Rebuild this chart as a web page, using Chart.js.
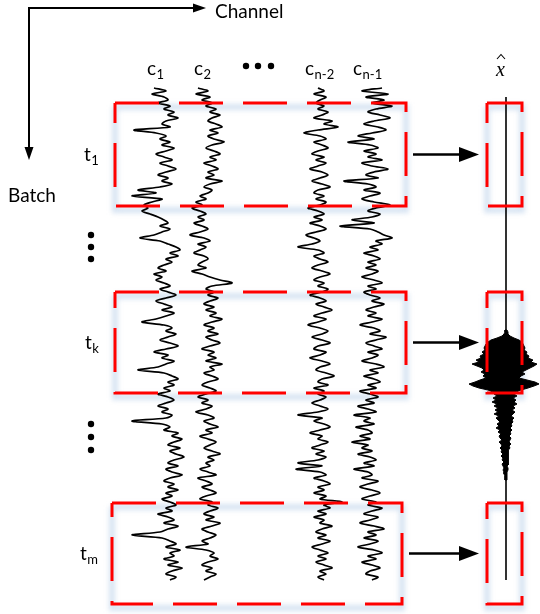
<!DOCTYPE html>
<html>
<head>
<meta charset="utf-8">
<script src="https://cdn.jsdelivr.net/npm/chart.js@4.4.1/dist/chart.umd.min.js"></script>
<style>
  html, body { margin: 0; padding: 0; background: #ffffff; }
  #wrap { width: 540px; height: 614px; }
</style>
</head>
<body>
<div id="wrap"><canvas id="chart" width="540" height="614"></canvas></div>
<script>
// ---------------- DATA ----------------
const channelLabels = ['c1', 'c2', 'cn-2', 'cn-1'];
const batchLabels = ['t1', 'tk', 'tm'];

// amplitude samples of each channel, one sample per time step
const ampC1 = [
  -8, 4, -10, 2, 6, -4, 8, 2, 12, 6, 16, 4, 0, 8, -28,
  -6, 4, -2, 8, 0, 12, 4, -6, 2, 10, -2, 6, 14, 4, -4,
  6, 0, 10, -2, -24, -6, -30, 0, -10, -18, -14, -20, -12, -4, 2,
  6, -2, 8, 0, -8, -22, -2, 6, 14, 18, 8, 16, 4, 10, 2,
  -4, 4, -8, 0, -6, 2, 8, -2, 6, 14, 4, -6, 2, 10, 0,
  12, 4, -6, -20, 2, 10, 4, 14, 6, -2, 8, 16, 4, -8, 6,
  0, 12, 4, -4, -24, 2, 10, 16, 6, 12, 2, 8, -4, 6, 12,
  4, -4, 6, 0, 10, 4, -30, 0, 8, 2, 16, 10, 20, 12, 6,
  18, 8, 14, 22, 12, 6, 16, 4, 10, 20, 8, 2, 12, 6, 16,
  4, 10, 0, 8, 14, 4, 10, -4, 6, 12, 2, 16, 6, -2, -30,
  0, 8, 14, 4, 18, 8, 12, 2, 16, 6, 20, 10, 4, 14, 8
];
const ampC2 = [
  -8, 2, -10, 4, -4, 6, 0, 10, 4, 14, 6, 2, 10, 16, 4,
  12, 2, 8, 18, 6, 0, 8, 14, 4, 10, -2, 6, 12, 2, 8,
  0, 16, 4, -2, 6, 2, -6, 0, -10, -4, -14, -6, 0, -8, -2,
  -12, -4, 2, -6, -16, -2, 4, -8, 0, -6, -12, -2, 2, -4, -8,
  0, -14, -4, 4, 14, 26, 6, 0, 8, 2, 12, 4, -2, 8, 0,
  10, 4, 16, 6, -2, 8, 2, 12, 0, 6, 14, 4, -4, 8, 2,
  10, 0, 16, 4, 8, -2, 6, 12, 2, -4, 4, 10, 0, -8, 2,
  -4, 6, 0, -10, 2, 8, -2, 4, 12, 0, 6, -6, 2, 10, 4,
  -2, 6, 14, 2, 8, 0, 4, -6, 2, 10, -8, 0, 6, -4, 4,
  10, 0, -6, 6, 2, 12, 4, -2, 8, 0, 14, 6, -4, 2, 10,
  4, -4, 2, -20, 0, 8, 4, 12, 2, -4, 6, 0, 10, 4, -2
];
const ampCn2 = [
  0, 6, -4, 8, 2, -2, 6, 0, 10, 4, -4, 14, 6, 20, 0,
  -14, 2, 8, -4, 4, 10, 0, -6, 6, -2, 8, 0, -8, 4, 10,
  2, -6, 4, 12, 0, -4, 6, -2, 8, 2, -10, 0, 6, -4, 4,
  -8, 2, 8, -2, -12, -4, 2, -6, -20, 0, 6, -4, 2, 10, 0,
  -6, 4, 12, 2, -4, 6, 0, 10, 4, -8, 2, 8, -2, 6, 14,
  4, -4, 8, 0, -10, 2, 10, 4, -6, 4, 12, 0, -4, 8, 2,
  -8, 4, 12, 2, -2, 8, 16, 4, 0, 10, -4, 6, 0, 8, 2,
  -6, 2, 10, 0, -20, 4, -4, 6, 12, 2, -8, 4, 0, 10, 2,
  -6, 6, -2, 8, 0, -20, 4, -22, 2, 8, -4, 6, 12, 0, 6,
  -4, 8, 2, 24, 6, 12, 0, 8, -4, 6, 2, 14, 4, -2, 8,
  0, 12, 4, -6, 2, 10, 0, 8, -2, 6, 14, 2, 8, 0, 6
];
const ampCn1 = [
  14, -6, 20, -2, 16, 4, 24, 8, 0, 12, 22, 6, -4, 10, 18,
  4, -10, 6, -20, 2, 10, -4, 8, 0, 14, -6, 4, 20, 6, -2,
  10, -24, 0, 8, -4, 12, 2, -6, 6, 22, 8, 0, 12, 4, -16,
  6, -28, 2, 10, 16, 24, 8, 14, 2, 10, -4, 6, 12, 0, 8,
  -2, 10, 4, -6, 6, 14, 0, 8, -4, 2, 12, 4, 16, 6, -2,
  8, 0, 14, 4, -8, 6, 12, 2, 18, 8, -2, 6, 14, 0, 10,
  4, -6, 8, 16, 2, 10, -4, 6, 12, 0, 8, -8, 2, 10, -2,
  6, -10, 0, 8, -14, 2, -4, 6, -12, 0, 4, -8, 2, -16, 0,
  -6, 4, -10, 2, 8, -4, 6, -14, 0, 4, -6, 10, 0, -8, 4,
  12, 2, -6, 8, 0, 14, 4, -4, 10, 2, -8, 6, 16, 0, 8,
  -4, 10, 2, -10, 6, 14, 0, 8, -6, 4, 12, 2, -2, 10, 4
];
const channelSeries = [ampC1, ampC2, ampCn2, ampCn1];

// reconstructed signal x-hat: envelope of the burst (left / right half widths)
const xhatBurstLeft = [
  1, 1, 2, 4, 9, 15, 18, 20, 21, 22,
  21, 24, 22, 26, 25, 30, 27, 34, 29, 24,
  22, 25, 21, 23, 20, 26, 31, 37, 33, 27,
  18, 13, 12, 9, 13, 10, 14, 9, 12, 8,
  11, 8, 12, 7, 10, 8, 6, 9, 7, 10,
  6, 8, 5, 7, 6, 4, 7, 5, 4, 6,
  4, 5, 3, 5, 3, 4, 2, 4, 3, 2,
  3, 2, 2, 1, 1, 1
];
const xhatBurstRight = [
  1, 2, 2, 4, 8, 13, 16, 17, 18, 19,
  18, 21, 20, 23, 22, 27, 25, 31, 28, 24,
  20, 16, 19, 15, 13, 21, 29, 33, 28, 22,
  15, 10, 8, 11, 7, 10, 8, 11, 7, 9,
  6, 9, 7, 5, 8, 6, 7, 5, 6, 4,
  6, 4, 5, 3, 5, 4, 3, 5, 3, 4,
  2, 3, 3, 2, 3, 2, 2, 3, 1, 2,
  2, 1, 1, 1, 1, 1
];

// time windows of each batch (in time units of the vertical axis)
const batchWindows = [[103, 206], [292, 393], [503, 604]];

// ---------------- LAYOUT / STYLE ----------------
const TRACE_T0 = 88, TRACE_DT = 3;
const CH_CENTER = [162, 206, 318, 368];
const BIG_RECT_X = [[115, 406], [115, 406], [112, 402]];
const OUT_RECT_X = [487, 522];
const XHAT_X = 506, XHAT_T = [97, 580];
const BURST_T0 = 330, BURST_DT = 2;
const RED = '#ff0000';
const GLOW = 'rgba(200, 218, 238, 0.75)';
const FONT = 'Lato, "Open Sans", sans-serif';

const datasets = [];

function rectPoints(x0, x1, t0, t1, dy) {
  dy = dy || 0;
  return [
    {x: x0, y: t0 + dy}, {x: x1, y: t0 + dy}, {x: x1, y: t1 + dy},
    {x: x0, y: t1 + dy}, {x: x0, y: t0 + dy}
  ];
}

// rectangles (red dashed, drawn on top) and their glow
batchWindows.forEach((w, k) => {
  const [t0, t1] = w;
  const bx = BIG_RECT_X[k];
  [[bx[0], bx[1]], OUT_RECT_X].forEach(xr => {
    datasets.push({
      label: 'window ' + batchLabels[k],
      data: rectPoints(xr[0], xr[1], t0, t1, 0),
      showLine: true, borderColor: RED, borderWidth: 3,
      borderDash: [44, 20], pointRadius: 0, fill: false, order: 0,
      borderCapStyle: 'butt', borderJoinStyle: 'miter'
    });
    datasets.push({
      label: 'glow ' + batchLabels[k],
      data: rectPoints(xr[0], xr[1], t0, t1, 4),
      showLine: true, borderColor: GLOW, borderWidth: 6,
      pointRadius: 0, fill: false, order: 5, glow: true
    });
  });
});

// channel traces
channelSeries.forEach((vals, k) => {
  datasets.push({
    label: channelLabels[k],
    data: vals.map((v, i) => ({x: CH_CENTER[k] + v, y: TRACE_T0 + i * TRACE_DT})),
    showLine: true, borderColor: '#000000', borderWidth: 1.7,
    pointRadius: 0, fill: false, order: 2, tension: 0.3
  });
});

// x-hat line
datasets.push({
  label: 'xhat',
  data: [{x: XHAT_X, y: XHAT_T[0]}, {x: XHAT_X, y: XHAT_T[1]}],
  showLine: true, borderColor: '#000000', borderWidth: 1.6,
  pointRadius: 0, fill: false, order: 3
});
// x-hat burst (closed envelope)
const burstPts = [];
xhatBurstLeft.forEach((v, i) => burstPts.push({x: XHAT_X - v, y: BURST_T0 + i * BURST_DT}));
for (let i = xhatBurstRight.length - 1; i >= 0; i--) {
  burstPts.push({x: XHAT_X + xhatBurstRight[i], y: BURST_T0 + i * BURST_DT});
}
burstPts.push({...burstPts[0]});
datasets.push({
  label: 'xhat burst',
  data: burstPts,
  showLine: true, borderColor: '#000000', borderWidth: 1,
  backgroundColor: '#000000', pointRadius: 0, fill: 'shape', order: 3
});

// ---------------- PLUGINS ----------------
const glowPlugin = {
  id: 'glow',
  beforeDatasetDraw(chart, args) {
    const ds = chart.data.datasets[args.index];
    if (ds.glow) { chart.ctx.save(); chart.ctx.filter = 'blur(2.5px)'; }
  },
  afterDatasetDraw(chart, args) {
    const ds = chart.data.datasets[args.index];
    if (ds.glow) { chart.ctx.restore(); }
  }
};

function arrowHead(ctx, tipX, tipY, dir, len, half) {
  ctx.beginPath();
  if (dir === 'right') {
    ctx.moveTo(tipX, tipY); ctx.lineTo(tipX - len, tipY - half); ctx.lineTo(tipX - len, tipY + half);
  } else {
    ctx.moveTo(tipX, tipY); ctx.lineTo(tipX - half, tipY - len); ctx.lineTo(tipX + half, tipY - len);
  }
  ctx.closePath(); ctx.fill();
}

function subText(ctx, main, sub, x, y, size, subSize, drop) {
  ctx.font = size + 'px ' + FONT;
  ctx.fillText(main, x, y);
  const w = ctx.measureText(main).width;
  ctx.font = subSize + 'px ' + FONT;
  ctx.fillText(sub, x + w + 0.5, y + drop);
}

const decorPlugin = {
  id: 'decor',
  afterDatasetsDraw(chart) {
    const ctx = chart.ctx;
    const xs = chart.scales.x, ys = chart.scales.y;
    ctx.save();
    ctx.fillStyle = '#000'; ctx.strokeStyle = '#000';
    ctx.textBaseline = 'alphabetic'; ctx.textAlign = 'left';

    // axis arrows
    ctx.lineWidth = 2;
    ctx.beginPath();
    ctx.moveTo(29, 150); ctx.lineTo(29, 8); ctx.lineTo(194, 8);
    ctx.stroke();
    arrowHead(ctx, 206, 8, 'right', 13, 4.5);
    arrowHead(ctx, 29, 160, 'down', 13, 4.5);
    ctx.font = '19px ' + FONT;
    ctx.fillText('Channel', 215, 18);
    ctx.fillText('Batch', 8, 202);

    // channel labels
    const chLabelX = [147, 194, 305, 353];
    const subs = ['1', '2', 'n-2', 'n-1'];
    chLabelX.forEach((x, k) => subText(ctx, 'c', subs[k], x, 75, 19, 13, 4));
    // top ellipsis
    [246, 258, 271].forEach(x => { ctx.beginPath(); ctx.arc(x, 66, 3.2, 0, Math.PI * 2); ctx.fill(); });
    // vertical ellipses
    [235, 247, 259, 424, 437, 450].forEach(y => { ctx.beginPath(); ctx.arc(91, y, 3.2, 0, Math.PI * 2); ctx.fill(); });

    // batch labels and arrows
    const bSubs = ['1', 'k', 'm'];
    const bLabelX = [84, 85, 80];
    batchWindows.forEach((w, k) => {
      const mid = ys.getPixelForValue((w[0] + w[1]) / 2);
      subText(ctx, 't', bSubs[k], bLabelX[k], mid + 6, 19, 13, 4);
      const x0 = xs.getPixelForValue(BIG_RECT_X[k][1]) + 7;
      const x1 = xs.getPixelForValue(OUT_RECT_X[0]) - 8;
      ctx.lineWidth = 2.5;
      ctx.beginPath(); ctx.moveTo(x0, mid); ctx.lineTo(x1 - 16, mid); ctx.stroke();
      arrowHead(ctx, x1, mid, 'right', 20, 7.5);
    });

    // x-hat label
    ctx.font = 'italic 20px "Liberation Serif", serif';
    ctx.fillText('x', 496, 76);
    ctx.lineWidth = 1.1;
    ctx.beginPath();
    ctx.moveTo(497, 59); ctx.lineTo(501, 54.5); ctx.lineTo(505, 59);
    ctx.stroke();
    ctx.restore();
  }
};

new Chart(document.getElementById('chart'), {
  type: 'scatter',
  data: { datasets },
  options: {
    responsive: false,
    animation: false,
    devicePixelRatio: 1,
    layout: { padding: 0 },
    elements: { point: { radius: 0 }, line: { tension: 0 } },
    scales: {
      x: { type: 'linear', min: 0, max: 540, display: false },
      y: { type: 'linear', min: 0, max: 614, reverse: true, display: false }
    },
    plugins: { legend: { display: false }, tooltip: { enabled: false } }
  },
  plugins: [glowPlugin, decorPlugin]
});
</script>
</body>
</html>
